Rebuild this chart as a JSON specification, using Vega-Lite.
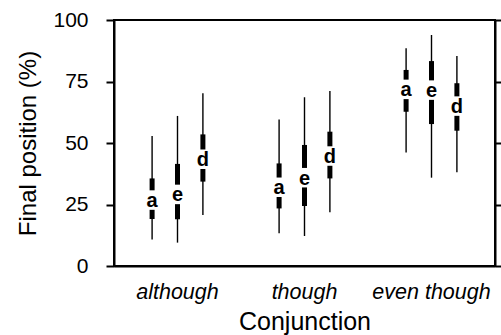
{
  "$schema": "https://vega.github.io/schema/vega-lite/v6.json",
  "width": 381,
  "height": 246,
  "autosize": {"type": "none"},
  "padding": {"left": 114, "top": 20, "right": 6, "bottom": 69},
  "config": {
    "font": "Liberation Sans",
    "view": {"stroke": "black", "strokeWidth": 2},
    "axis": {"domainColor": "black", "domainWidth": 2, "tickColor": "black", "tickWidth": 2, "labelColor": "black", "titleColor": "black", "titleFontWeight": "normal", "grid": false}
  },
  "data": {"values": [
    {"conj": "although", "group": "a", "lo": 10.8, "q1": 19.1, "med": 26.8, "q3": 35.6, "hi": 52.8},
    {"conj": "although", "group": "e", "lo": 9.5, "q1": 19.0, "med": 29.1, "q3": 41.5, "hi": 61.0},
    {"conj": "although", "group": "d", "lo": 20.7, "q1": 34.3, "med": 43.4, "q3": 53.5, "hi": 70.2},
    {"conj": "though", "group": "a", "lo": 13.3, "q1": 23.4, "med": 32.0, "q3": 41.7, "hi": 59.6},
    {"conj": "though", "group": "e", "lo": 12.2, "q1": 24.4, "med": 35.9, "q3": 49.2, "hi": 68.6},
    {"conj": "though", "group": "d", "lo": 21.8, "q1": 35.6, "med": 44.7, "q3": 54.6, "hi": 71.1},
    {"conj": "even though", "group": "a", "lo": 46.1, "q1": 62.7, "med": 71.8, "q3": 79.7, "hi": 88.5},
    {"conj": "even though", "group": "e", "lo": 35.9, "q1": 57.7, "med": 71.5, "q3": 83.3, "hi": 93.9},
    {"conj": "even though", "group": "d", "lo": 38.1, "q1": 55.0, "med": 65.0, "q3": 74.3, "hi": 85.4}
  ]},
  "encoding": {
    "x": {"field": "conj", "type": "nominal", "sort": ["although", "though", "even though"],
      "scale": {"paddingInner": 0, "paddingOuter": 0},
      "axis": {"title": "Conjunction", "titleFontSize": 25, "titlePadding": 7, "labelFontSize": 21.5, "labelFontStyle": "italic", "labelAngle": 0, "ticks": false, "labelPadding": 15}},
    "xOffset": {"field": "group", "type": "nominal", "sort": ["a", "e", "d"], "scale": {"paddingInner": 0, "paddingOuter": 1.04}}
  },
  "resolve": {"scale": {"y": "independent"}, "axis": {"y": "independent"}},
  "layer": [
    {
      "mark": {"type": "rule", "color": "black", "strokeWidth": 1.4},
      "encoding": {
        "y": {"field": "lo", "type": "quantitative", "scale": {"domain": [0, 100], "nice": false},
          "axis": {"orient": "left", "title": "Final position (%)", "titleFontSize": 24, "titlePadding": 12, "values": [0, 25, 50, 75, 100], "labelFontSize": 21, "tickSize": 8, "labelPadding": 18}},
        "y2": {"field": "hi"}
      }
    },
    {
      "mark": {"type": "rule", "color": "black", "strokeWidth": 5},
      "encoding": {
        "y": {"field": "q1", "type": "quantitative", "scale": {"domain": [0, 100], "nice": false},
          "axis": {"orient": "right", "title": null, "labels": false, "values": [0, 25, 50, 75, 100], "tickSize": 6}},
        "y2": {"field": "q3"}
      }
    },
    {
      "mark": {"type": "point", "filled": true, "color": "white", "opacity": 1, "strokeWidth": 0, "shape": "M-0.6,-1L0.6,-1L0.6,1L-0.6,1Z", "size": 380},
      "encoding": {"y": {"field": "med", "type": "quantitative", "scale": {"domain": [0, 100], "nice": false}, "axis": null}}
    },
    {
      "mark": {"type": "text", "fontWeight": "bold", "fontSize": 20, "color": "black", "baseline": "middle", "align": "center", "dy": 1},
      "encoding": {"y": {"field": "med", "type": "quantitative", "scale": {"domain": [0, 100], "nice": false}, "axis": null}, "text": {"field": "group"}}
    }
  ]
}
